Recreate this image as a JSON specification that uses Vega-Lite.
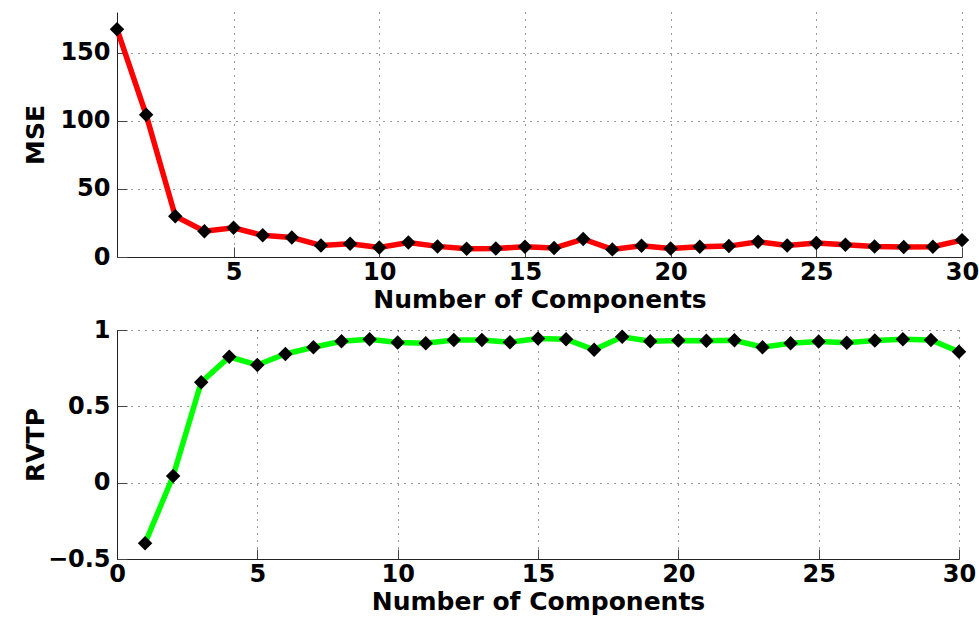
{
  "$schema": "https://vega.github.io/schema/vega-lite/v6.json",
  "background": "white",
  "padding": {"left": 23, "top": 12, "right": 10, "bottom": 2},
  "bounds": "flush",
  "spacing": 73,
  "data": {"values": [
    {"n": 1, "mse": 167.4, "rvtp": -0.397},
    {"n": 2, "mse": 104.5, "rvtp": 0.044},
    {"n": 3, "mse": 30.0, "rvtp": 0.658},
    {"n": 4, "mse": 19.0, "rvtp": 0.824},
    {"n": 5, "mse": 21.5, "rvtp": 0.771},
    {"n": 6, "mse": 15.9, "rvtp": 0.843},
    {"n": 7, "mse": 14.4, "rvtp": 0.887},
    {"n": 8, "mse": 8.5, "rvtp": 0.926},
    {"n": 9, "mse": 9.8, "rvtp": 0.94},
    {"n": 10, "mse": 7.0, "rvtp": 0.918},
    {"n": 11, "mse": 10.7, "rvtp": 0.913},
    {"n": 12, "mse": 7.8, "rvtp": 0.935},
    {"n": 13, "mse": 6.1, "rvtp": 0.935},
    {"n": 14, "mse": 6.3, "rvtp": 0.92},
    {"n": 15, "mse": 7.5, "rvtp": 0.944},
    {"n": 16, "mse": 6.6, "rvtp": 0.94},
    {"n": 17, "mse": 13.2, "rvtp": 0.87},
    {"n": 18, "mse": 5.6, "rvtp": 0.955},
    {"n": 19, "mse": 8.3, "rvtp": 0.927},
    {"n": 20, "mse": 6.3, "rvtp": 0.932},
    {"n": 21, "mse": 7.5, "rvtp": 0.929},
    {"n": 22, "mse": 8.0, "rvtp": 0.933},
    {"n": 23, "mse": 11.2, "rvtp": 0.887},
    {"n": 24, "mse": 8.5, "rvtp": 0.913},
    {"n": 25, "mse": 10.2, "rvtp": 0.924},
    {"n": 26, "mse": 9.0, "rvtp": 0.917},
    {"n": 27, "mse": 7.8, "rvtp": 0.931},
    {"n": 28, "mse": 7.3, "rvtp": 0.94},
    {"n": 29, "mse": 7.5, "rvtp": 0.935},
    {"n": 30, "mse": 12.4, "rvtp": 0.858}
  ]},
  "vconcat": [
    {
      "width": 845,
      "height": 245,
      "encoding": {
        "x": {"field": "n", "type": "quantitative",
              "scale": {"domain": [1, 30], "nice": false, "zero": false},
              "axis": {"values": [5, 10, 15, 20, 25, 30], "title": "Number of Components"}},
        "y": {"field": "mse", "type": "quantitative",
              "scale": {"domain": [0, 180], "nice": false},
              "axis": {"values": [0, 50, 100, 150], "title": "MSE"}}
      },
      "layer": [
        {"mark": {"type": "line", "color": "#ff0000", "strokeWidth": 5.5}},
        {"mark": {"type": "point", "shape": "diamond", "filled": true, "color": "black", "size": 210, "opacity": 1}}
      ]
    },
    {
      "width": 842,
      "height": 229,
      "encoding": {
        "x": {"field": "n", "type": "quantitative",
              "scale": {"domain": [0, 30], "nice": false},
              "axis": {"values": [0, 5, 10, 15, 20, 25, 30], "title": "Number of Components"}},
        "y": {"field": "rvtp", "type": "quantitative",
              "scale": {"domain": [-0.5, 1], "nice": false, "zero": false},
              "axis": {"values": [-0.5, 0, 0.5, 1], "title": "RVTP", "format": ".1~f", "labelExpr": "replace(datum.label, '-', '\u2212')"}}
      },
      "layer": [
        {"mark": {"type": "line", "color": "#00ff00", "strokeWidth": 5.5}},
        {"mark": {"type": "point", "shape": "diamond", "filled": true, "color": "black", "size": 210, "opacity": 1}}
      ]
    }
  ],
  "config": {
    "view": {"stroke": null},
    "font": "DejaVu Sans",
    "axis": {
      "labelFont": "DejaVu Sans",
      "labelFontSize": 24,
      "labelFontWeight": "bold",
      "labelColor": "black",
      "titleFont": "DejaVu Sans",
      "titleFontSize": 25,
      "titleFontWeight": "bold",
      "titleColor": "black",
      "domainColor": "#222222",
      "domainWidth": 1,
      "tickColor": "#444444",
      "tickSize": -10,
      "grid": true,
      "gridColor": "#222222",
      "gridDash": [1, 6],
      "gridOpacity": 0.9,
      "gridWidth": 1,
      "labelFlush": false,
      "labelOverlap": false
    },
    "axisX": {"labelPadding": 13, "titlePadding": 3},
    "axisY": {"labelPadding": 17, "minExtent": 55, "maxExtent": 55, "titlePadding": 14}
  }
}
